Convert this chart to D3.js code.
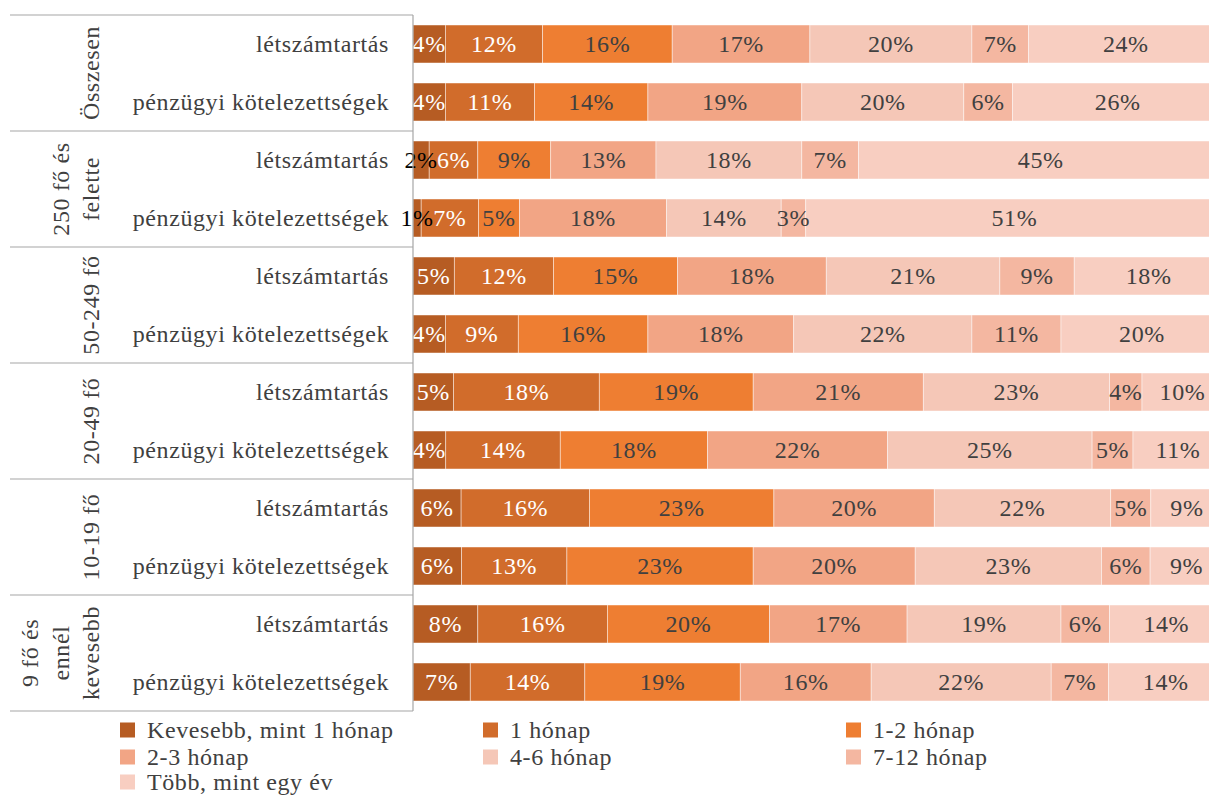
<!DOCTYPE html>
<html><head><meta charset="utf-8">
<script src="https://cdn.jsdelivr.net/npm/d3@7"></script>
<style>
html,body{margin:0;padding:0;background:#fff;overflow:hidden;}
svg{display:block;font-family:"Liberation Serif","DejaVu Serif",serif;}
</style></head>
<body><svg id="chart" width="1209" height="796"></svg>
<script>
// ---- data ----
const seriesNames = ["Kevesebb, mint 1 hónap","1 hónap","1-2 hónap","2-3 hónap","4-6 hónap","7-12 hónap","Több, mint egy év"];
const seriesColors = ["#B65C23","#D16C2B","#EE7E32","#F2A585","#F5C7B7","#F4B7A1","#F8CEC1"];
const groups = [["Összesen"],["250 fő és","felette"],["50-249 fő"],["20-49 fő"],["10-19 fő"],["9 fő és","ennél","kevesebb"]];
const subCategories = ["létszámtartás","pénzügyi kötelezettségek"];
const values = [
  [4,12,16,17,20,7,24],
  [4,11,14,19,20,6,26],
  [2,6,9,13,18,7,45],
  [1,7,5,18,14,3,51],
  [5,12,15,18,21,9,18],
  [4,9,16,18,22,11,20],
  [5,18,19,21,23,4,10],
  [4,14,18,22,25,5,11],
  [6,16,23,20,22,5,9],
  [6,13,23,20,23,6,9],
  [8,16,20,17,19,6,14],
  [7,14,19,16,22,7,14]
];

// ---- build table ----
const rows = values.map((v,i)=>{
  const o = {id:i, group:Math.floor(i/2), sub:subCategories[i%2]};
  seriesNames.forEach((s,j)=>o[s]=v[j]);
  return o;
});

const FS = 24, LS = "0.6px";
const svg = d3.select("#chart");
const axisX = 413;
const x = d3.scaleLinear().domain([0,1]).range([axisX, 1223]);
const y = d3.scaleBand().domain(rows.map(r=>r.id)).range([15,711]).paddingInner(0.345).paddingOuter(0.1725);
const color = d3.scaleOrdinal().domain(seriesNames).range(seriesColors);

const stack = d3.stack().keys(seriesNames).offset(d3.stackOffsetExpand);
const stacked = stack(rows);

const g = svg.append("g");
const layers = g.selectAll("g.layer").data(stacked).join("g").attr("class","layer").attr("fill",d=>color(d.key));
layers.selectAll("rect").data(d=>d).join("rect")
  .attr("x",d=>x(d[0]))
  .attr("width",d=>x(d[1])-x(d[0]))
  .attr("y",d=>y(d.data.id))
  .attr("height",y.bandwidth())
  .attr("stroke","#fff").attr("stroke-width",0.75).attr("stroke-opacity",0.6);

// labels
stacked.forEach((layer,si)=>{
  g.selectAll(null).data(layer).join("text")
    .attr("x",d=>(x(d[0])+x(d[1]))/2)
    .attr("y",d=>y(d.data.id)+y.bandwidth()/2)
    .attr("dy","0.35em")
    .attr("text-anchor","middle")
    .attr("font-size",FS).attr("letter-spacing",LS)
    .attr("fill",d=>{ const v=d.data[layer.key]; if(v<3) return "#000"; return si<2?"#fff":"#404040";})
    .text(d=>d.data[layer.key]+"%");
});

// axis lines
const lineColor = "#A6A6A6";
svg.append("line").attr("x1",axisX).attr("x2",axisX).attr("y1",15).attr("y2",711).attr("stroke",lineColor).attr("stroke-width",1.2);
const gb = d3.range(groups.length+1).map(i=>15 + i*(696/groups.length));
svg.selectAll("line.sep").data(gb).join("line").attr("class","sep")
  .attr("x1",10).attr("x2",axisX).attr("y1",d=>d).attr("y2",d=>d)
  .attr("stroke",lineColor).attr("stroke-width",1.2);

// sub-category labels
svg.selectAll("text.sub").data(rows).join("text").attr("class","sub")
  .attr("x",axisX-24).attr("y",d=>y(d.id)+y.bandwidth()/2).attr("dy","0.35em")
  .attr("text-anchor","end").attr("font-size",FS).attr("letter-spacing",LS).attr("fill","#404040")
  .text(d=>d.sub);

// group labels
groups.forEach((lines,gi)=>{
  const cy = (gb[gi]+gb[gi+1])/2;
  const n = lines.length;
  lines.forEach((t,li)=>{
    const bx = 99 - (n-1-li)*30.5;
    svg.append("text")
      .attr("transform",`translate(${bx},${cy}) rotate(-90)`)
      .attr("text-anchor","middle").attr("font-size",FS).attr("letter-spacing",LS).attr("fill","#404040")
      .text(t);
  });
});

// legend
const legCols = [120,483,846];
const legRows = [730,757,782];
const leg = svg.append("g");
seriesNames.forEach((s,i)=>{
  const cx = legCols[i%3], cy = legRows[Math.floor(i/3)];
  leg.append("rect").attr("x",cx).attr("y",cy-7.5).attr("width",15).attr("height",15).attr("fill",color(s));
  leg.append("text").attr("x",cx+27).attr("y",cy).attr("dy","0.33em").attr("font-size",FS).attr("letter-spacing",LS).attr("fill","#404040").text(s);
});
</script></body></html>
